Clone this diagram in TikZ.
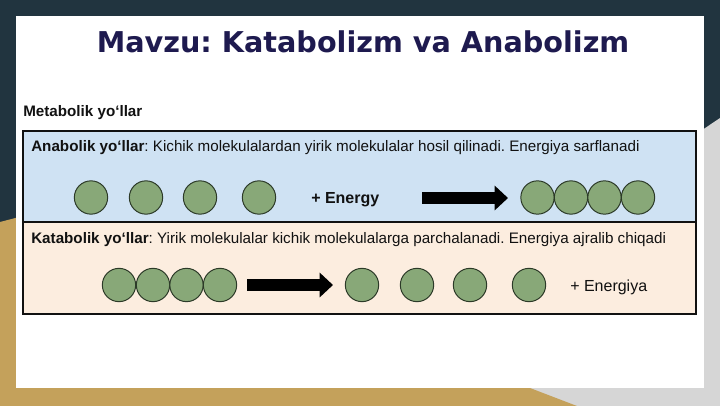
\documentclass[tikz,border=0pt]{standalone}
\usepackage{fontspec}
\setmainfont{Liberation Sans}
\newfontfamily\titlefont{DejaVu Sans}
\usetikzlibrary{arrows.meta,positioning}
\frenchspacing
\definecolor{metaNavy}{HTML}{21343F}
\definecolor{metaTan}{HTML}{C4A15B}
\definecolor{metaGray}{HTML}{D6D6D6}
\definecolor{metaTitle}{HTML}{1E1A4F}
\definecolor{metaInk}{HTML}{111111}
\definecolor{metaBlue}{HTML}{CFE2F3}
\definecolor{metaPeach}{HTML}{FCEDDF}
\definecolor{metaGreen}{HTML}{88A878}
\definecolor{metaEdge}{HTML}{2C3A28}
\tikzset{
  every picture/.style={font=\fontsize{11.4}{13.6}\selectfont, text=metaInk},
  meta title/.style={font=\titlefont\bfseries\fontsize{21.5}{25}\selectfont,
    text=metaTitle},
  meta label/.style={anchor=base west, inner sep=0pt},
  meta frame/.style={draw=metaInk, line width=1.5pt},
  meta mol/.style={circle, draw=metaEdge, fill=metaGreen, line width=0.75pt,
    minimum size=25pt, inner sep=0pt},
  meta energy/.style={anchor=base west, inner sep=0pt,
    font=\fontsize{12}{14}\selectfont},
  meta arrow/.style={-{Triangle[length=10pt,width=18pt]},
    draw=black, line width=8.5pt, line cap=butt}
}

\begin{document}
\begin{tikzpicture}[x=0.75pt,y=-0.75pt]
  \useasboundingbox (0,0) rectangle (720,406);
  % slide background
  \fill[metaNavy] (0,0) rectangle (720,406);
  \fill[metaGray] (720,118) -- (450,300) -- (450,406) -- (720,406) -- cycle;
  \fill[metaTan] (0,222) -- (200,170) -- (530,388) -- (577,406) -- (0,406) -- cycle;
  \fill[white] (16,16) rectangle (704,388);

  \node[meta title] (title) at (363,42) {Mavzu: Katabolizm va Anabolizm};
  \node[meta label, font=\bfseries\fontsize{11.4}{13.6}\selectfont] (metaHead) at (23,116.5) {Metabolik yo‘llar};

  % the two rows
  \fill[metaBlue] (23,131) rectangle (696,222);
  \fill[metaPeach] (23,222) rectangle (696,314);
  \draw[meta frame] (23,222) -- (696,222);
  \draw[meta frame] (23,131) rectangle (696,314);

  \node[meta label] (anaText) at (31,151.7) {\textbf{Anabolik yo‘llar}: Kichik molekulalardan yirik molekulalar hosil qilinadi. Energiya sarflanadi};
  \node[meta label] (kataText) at (31,243.5) {\textbf{Katabolik yo‘llar}: Yirik molekulalar kichik molekulalarga parchalanadi. Energiya ajralib chiqadi};

  % anabolic: small ones + energy -> big one
  \foreach \x [count=\i] in {91,146,200,259}
    \node[meta mol] (anaS\i) at (\x,197.5) {};
  \node[meta energy, font=\bfseries\fontsize{12}{14}\selectfont] (anaEnergy) at (311,203) {+ Energy};
  \coordinate (anaFrom) at (422,198);
  \coordinate (anaTo) at (508,198);
  \draw[meta arrow] (anaFrom) -- (anaTo);
  \foreach \x [count=\i] in {537.5,571,604.5,638}
    \node[meta mol] (anaB\i) at (\x,197.5) {};

  % catabolic: big one -> small ones + energy
  \foreach \x [count=\i] in {119,153,186.5,220}
    \node[meta mol] (kataB\i) at (\x,285) {};
  \coordinate (kataFrom) at (247,285);
  \coordinate (kataTo) at (333,285);
  \draw[meta arrow] (kataFrom) -- (kataTo);
  \foreach \x [count=\i] in {362,417,470,529}
    \node[meta mol] (kataS\i) at (\x,285) {};
  \node[meta energy] (kataEnergy) at (570,291) {+ Energiya};
\end{tikzpicture}
\end{document}
